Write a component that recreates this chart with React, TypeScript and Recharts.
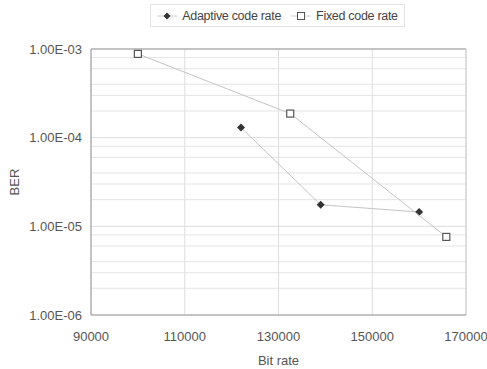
import { ScatterChart, Scatter, XAxis, YAxis, CartesianGrid, Legend, ReferenceLine } from "recharts";

const adaptiveBitRate = [122000, 139000, 160000];
const adaptiveBer = [1.3e-4, 1.75e-5, 1.45e-5];
const fixedBitRate = [100000, 132500, 165800];
const fixedBer = [8.8e-4, 1.87e-4, 7.6e-6];

const xTicks = [90000, 110000, 130000, 150000, 170000];
const yTicks = [1e-6, 1e-5, 1e-4, 1e-3];
const decades = [1e-6, 1e-5, 1e-4];
const minorSteps = [2, 3, 4, 6, 8];

const adaptiveData = adaptiveBitRate.map((x, i) => ({ x, y: adaptiveBer[i] }));
const fixedData = fixedBitRate.map((x, i) => ({ x, y: fixedBer[i] }));
const minorLines = decades.flatMap((d) => minorSteps.map((m) => m * d));

const FONT = "'Liberation Sans', Arial, sans-serif";
const TEXT = "#555";

const formatBer = (v: number) => {
  const exp = Math.round(Math.log10(v));
  const sign = exp < 0 ? "-" : "+";
  return `1.00E${sign}${String(Math.abs(exp)).padStart(2, "0")}`;
};

function Diamond(props: any) {
  const { cx, cy } = props;
  if (cx == null || cy == null) return null;
  return <polygon points={`${cx},${cy - 4} ${cx + 4},${cy} ${cx},${cy + 4} ${cx - 4},${cy}`} fill="#333" />;
}

function Square(props: any) {
  const { cx, cy } = props;
  if (cx == null || cy == null) return null;
  return <rect x={cx - 3.5} y={cy - 3.5} width={7} height={7} fill="#fff" stroke="#555" strokeWidth={1.2} />;
}

function LegendBox() {
  const item = { display: "flex", alignItems: "center", gap: 5, whiteSpace: "nowrap" } as const;
  return (
    <div
      style={{
        display: "flex",
        alignItems: "center",
        justifyContent: "center",
        gap: 10,
        border: "1px solid #e4e4e4",
        height: 23,
        boxSizing: "border-box",
        fontFamily: FONT,
        fontSize: 12.5,
        color: "#444",
        letterSpacing: -0.3,
      }}
    >
      <span style={item}>
        <svg width={20} height={10}>
          <line x1={0} y1={5} x2={20} y2={5} stroke="#ccc" />
          <polygon points="10,1.5 13.5,5 10,8.5 6.5,5" fill="#333" />
        </svg>
        Adaptive code rate
      </span>
      <span style={item}>
        <svg width={20} height={10}>
          <line x1={0} y1={5} x2={20} y2={5} stroke="#ccc" />
          <rect x={6.5} y={1.5} width={7} height={7} fill="#fff" stroke="#555" />
        </svg>
        Fixed code rate
      </span>
    </div>
  );
}

export default function App() {
  return (
    <div style={{ position: "absolute", left: 0, top: 0, width: 487, height: 369, background: "#fff" }}>
      <ScatterChart width={487} height={369} margin={{ top: 26, right: 21, bottom: 0, left: 0 }}>
        <CartesianGrid stroke="#dcdcdc" strokeWidth={1} />
        {minorLines.map((v) => (
          <ReferenceLine key={v} y={v} stroke="#e4e4e4" strokeWidth={1} ifOverflow="hidden" />
        ))}
        <ReferenceLine y={1e-3} stroke="#999" />
        <ReferenceLine x={170000} stroke="#ccc" />
        <XAxis
          type="number"
          dataKey="x"
          domain={[90000, 170000]}
          ticks={xTicks}
          allowDataOverflow
          height={54}
          tickSize={0}
          tickMargin={17}
          axisLine={{ stroke: "#999" }}
          tick={{ fill: TEXT, fontSize: 13, fontFamily: FONT }}
          label={() => (
            <text x={278.5} y={365} textAnchor="middle" fill={TEXT} fontSize={13} fontFamily={FONT}>
              Bit rate
            </text>
          )}
        />
        <YAxis
          type="number"
          dataKey="y"
          scale="log"
          domain={[1e-6, 1e-3]}
          ticks={yTicks}
          allowDataOverflow
          width={91}
          tickSize={0}
          tickMargin={9}
          axisLine={{ stroke: "#999" }}
          tickFormatter={formatBer}
          tick={{ fill: TEXT, fontSize: 13, fontFamily: FONT }}
          label={() => (
            <text
              x={19}
              y={182}
              textAnchor="middle"
              transform="rotate(-90 19 182)"
              fill={TEXT}
              fontSize={13}
              fontFamily={FONT}
            >
              BER
            </text>
          )}
        />
        <Legend
          verticalAlign="top"
          content={() => <LegendBox />}
          wrapperStyle={{ top: 4, left: 150, width: 255 }}
        />
        <Scatter
          name="Adaptive code rate"
          data={adaptiveData}
          line={{ stroke: "#c4c4c4", strokeWidth: 1 }}
          shape={<Diamond />}
          isAnimationActive={false}
        />
        <Scatter
          name="Fixed code rate"
          data={fixedData}
          line={{ stroke: "#c4c4c4", strokeWidth: 1 }}
          shape={<Square />}
          isAnimationActive={false}
        />
      </ScatterChart>
    </div>
  );
}
